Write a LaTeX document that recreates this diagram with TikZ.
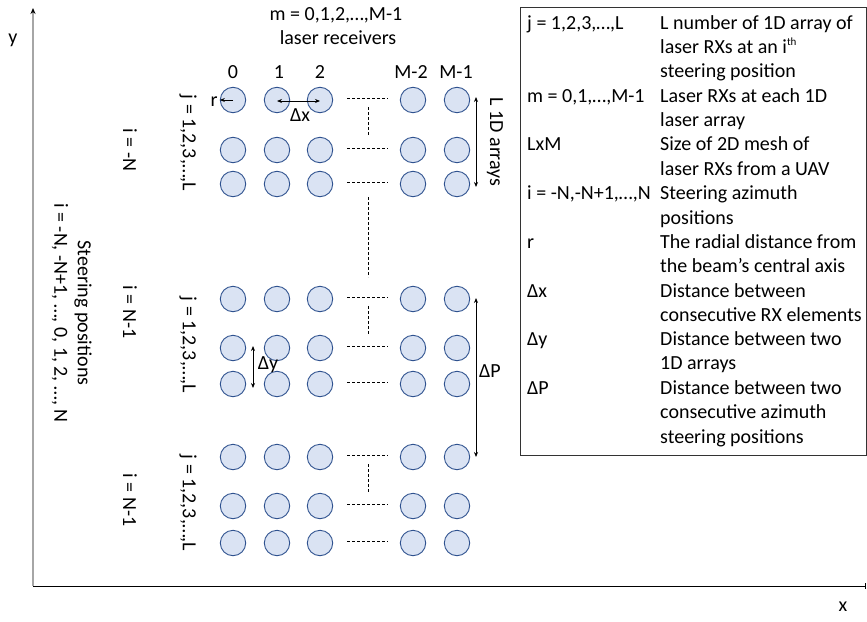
\documentclass[tikz,border=0pt]{standalone}
\usepackage{fontspec}
\setmainfont{Carlito}
\usetikzlibrary{arrows.meta}
\definecolor{rxfill}{HTML}{DAE3F3}
\definecolor{rxline}{HTML}{2F528F}
\tikzset{
    every node/.style={font=\fontsize{20}{24.4}\selectfont},
    rx/.style={circle,draw=rxline,fill=rxfill,line width=0.9pt,minimum size=25.4pt,inner sep=0pt},
    dots/.style={line width=0.8pt,dash pattern=on 3pt off 2pt},
    dim/.style={line width=0.8pt,{Stealth[length=5pt,width=4pt]}-{Stealth[length=5pt,width=4pt]}},
    vlabel/.style={rotate=-90,inner sep=0pt},
    legtxt/.style={anchor=base west,inner sep=0pt}
}
\begin{document}
\begin{tikzpicture}[x=1pt,y=-1pt]
                \useasboundingbox (0,0) rectangle (867,621);
                \coordinate (origin) at (33,586);
                \coordinate (ytop) at (33,8);
                \coordinate (xend) at (866,586);
                \draw[gray!70,line width=1.2pt,-{Stealth[black,length=6pt,width=5pt]}] (origin) -- (ytop);
                \draw[line width=1pt,-{Bar[width=6pt]}] (origin) -- (xend);
                \node (ylbl) at (13,40) {y};
                \node (xlbl) at (843,607) {x};
                \foreach \g/\ya/\yb/\yc in {1/100/150/184,2/299/348/384,3/457/506/543} {
                    \foreach \r/\y in {1/\ya,2/\yb,3/\yc} {
                        \foreach \c/\x in {0/233,1/277,2/320,3/413,4/457} {
                            \node[rx] (rx\g\r\c) at (\x,\y) {};
                        }
                        \draw[dots] ([xshift=14pt,yshift=2pt]rx\g\r2.east) -- ([xshift=-12pt,yshift=2pt]rx\g\r3.west);
                    }
                    \draw[dots] ([xshift=48pt,yshift=-7pt]rx\g12.center) -- ([xshift=48pt,yshift=14pt]rx\g22.center);
                }
                \draw[dots] ([xshift=48pt,yshift=-13pt]rx132.center) -- ([xshift=48pt,yshift=22pt]rx212.center);
                \node (mlbl) at (336,15) {m = 0,1,2,…,M-1};
                \node (rxlbl) at (338,38) {laser receivers};
                \foreach \c/\x/\t in {0/233/0,1/279/1,2/320/2,3/411/M-2,4/456/M-1} {
                    \node (col\c) at (\x,72) {\t};
                }
                \draw[line width=0.8pt,-{Stealth[length=5pt,width=4pt]}] (rx110.center) -- (rx110.west);
                \node (rlbl) at (214,102) {r};
                \draw[dim] ([yshift=-1pt]rx111.center) -- ([yshift=-1pt]rx112.center);
                \node (dxlbl) at (300,115) {Δx};
                \draw[dim] ([xshift=19pt,yshift=3pt]rx114.center) -- ([xshift=19pt,yshift=-3pt]rx134.center);
                \node[vlabel] (arrlbl) at (495,142) {L 1D arrays};
                \draw[dim] ([xshift=20pt,yshift=2pt]rx220.center) -- ([xshift=20pt,yshift=-4pt]rx230.center);
                \node (dylbl) at (268,365) {Δy};
                \draw[dim] ([xshift=19pt,yshift=1pt]rx214.center) -- ([xshift=19pt]rx314.center);
                \node (dplbl) at (490,371) {ΔP};
                \node[vlabel] (ilbl1) at (130,150) {i = -N};
                \node[vlabel] (ilbl2) at (130,312) {i = N-1};
                \node[vlabel] (ilbl3) at (130,500) {i = N-1};
                \foreach \g/\y in {1/143,2/345,3/503} {
                    \node[vlabel] (jlbl\g) at (188,\y) {j = 1,2,3,…,L};
                }
                \node[vlabel] (steer) at (83,313) {Steering positions};
                \node[vlabel] (steerrange) at (60,313) {i = -N, -N+1, …, 0, 1, 2, …, N};
                \draw[line width=0.8pt,black!80] (520,7) rectangle (866,455);
                \foreach \y/\t in {23/{j = 1,2,3,…,L},96/{m = 0,1,…,M-1},144/{LxM},193/{i = -N,-N+1,…,N},
                    242/{r},291/{Δx},339/{Δy},388/{ΔP}} {
                    \node[legtxt] at (527,\y+6) {\t};
                }
                \foreach \y/\t in {23/{L number of 1D array of},47/{laser RXs at an i\textsuperscript{\fontsize{11}{12}\selectfont th}},71/{steering position},
                    96/{Laser RXs at each 1D},120/{laser array},144/{Size of 2D mesh of},169/{laser RXs from a UAV},
                    193/{Steering azimuth},218/{positions},242/{The radial distance from},266/{the beam’s central axis},
                    291/{Distance between},315/{consecutive RX elements},339/{Distance between two},363/{1D arrays},
                    388/{Distance between two},412/{consecutive azimuth},437/{steering positions}} {
                    \node[legtxt] at (660,\y+6) {\t};
                }
            \end{tikzpicture}
\end{document}
